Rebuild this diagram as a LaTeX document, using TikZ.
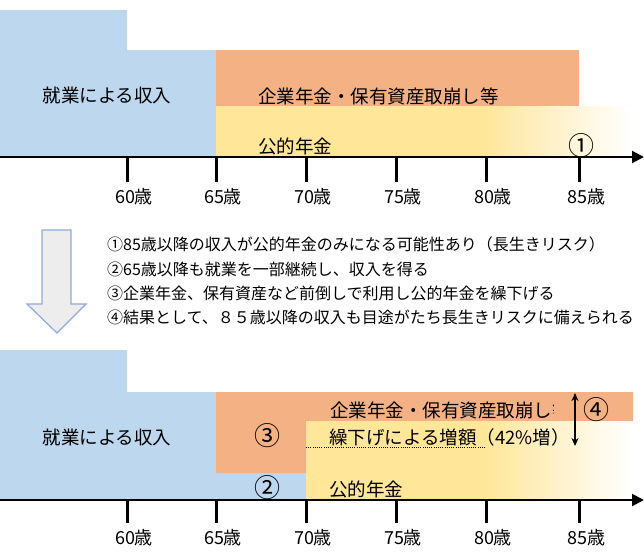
\documentclass[tikz,border=0pt]{standalone}
\usepackage{fontspec}
\setmainfont{Noto Sans CJK JP}
\usetikzlibrary{arrows.meta}
\definecolor{cblue}{HTML}{BDD7EE}
\definecolor{corange}{HTML}{F4B183}
\definecolor{cyellow}{HTML}{FFE699}
\definecolor{carrowfill}{HTML}{EDEDED}
\definecolor{carrowline}{HTML}{8FAADC}
\begin{document}
\begin{tikzpicture}[x=1pt,y=-1pt,
  lbl/.style={font=\fontsize{18.5}{20}\selectfont, inner sep=0pt},
  lblw/.style={lbl, anchor=west},
  circ/.style={font=\fontsize{26}{28}\selectfont, inner sep=0pt},
  agel/.style={font=\fontsize{18}{20}\selectfont, inner sep=0pt},
  note/.style={font=\fontsize{16}{18}\selectfont, inner sep=0pt, anchor=west},
  axisline/.style={line width=2pt, -{Triangle[length=12pt,width=12pt]}},
  tickline/.style={line width=3pt},
  bigarrow/.style={fill=carrowfill, draw=carrowline, line width=1.2pt, line join=miter},
  dblarrow/.style={line width=1.5pt, {Stealth[length=8pt,width=7pt]}-{Stealth[length=8pt,width=7pt]}},
  dotline/.style={line width=1pt, dash pattern=on 1pt off 1.2pt},
]
\useasboundingbox (0,0) rectangle (644,555);

% ---------------- top chart ----------------
\fill[cblue] (0,10) -- (127,10) -- (127,50) -- (216,50) -- (216,157) -- (0,157) -- cycle;
\fill[corange] (216,50) rectangle (579,106);
\fill[cyellow] (216,106) rectangle (482,157);
\shade[left color=cyellow, right color=white] (482,106) rectangle (632,157);

\node[lbl] (work1) at (107,95) {就業による収入};
\node[lblw] (corp1) at (258,96) {企業年金・保有資産取崩し等};
\node[lblw] (pub1) at (258,146) {公的年金};
\node[circ] (c1top) at (581,146) {①};

\coordinate (ax0) at (0,157);
\coordinate (ax1) at (644,157);
\draw[axisline] (ax0) -- (ax1);
\foreach \x/\a in {127/60,216/65,306/70,396/75,486/80,579/85}{
  \coordinate (tt\a) at (\x,157);
  \coordinate (tb\a) at (\x,182);
  \draw[tickline] (tt\a) -- (tb\a);
  \node[agel] (la\a) at (\x+7,197) {\a 歳};
}

% ---------------- arrow and notes ----------------
\draw[bigarrow] (42,230) -- (71,230) -- (71,304) -- (86,304) -- (57,333) -- (27,304) -- (42,304) -- cycle;
\node[note] (n1) at (107,244) {①85歳以降の収入が公的年金のみになる可能性あり（長生きリスク）};
\node[note] (n2) at (107,269) {②65歳以降も就業を一部継続し、収入を得る};
\node[note] (n3) at (107,293) {③企業年金、保有資産など前倒しで利用し公的年金を繰下げる};
\node[note] (n4) at (107,317) {④結果として、８５歳以降の収入も目途がたち長生きリスクに備えられる};

% ---------------- bottom chart ----------------
\fill[cblue] (0,350) -- (127,350) -- (127,392) -- (306,392) -- (306,500) -- (0,500) -- cycle;
\fill[corange] (216,392) -- (633,392) -- (633,421) -- (306,421) -- (306,473) -- (216,473) -- cycle;
\fill[cyellow] (306,421) rectangle (485,500);
\shade[left color=cyellow, right color=white] (485,421) rectangle (632,500);

\coordinate (dl0) at (306,447);
\coordinate (dl1) at (486,447);
\draw[dotline] (dl0) -- (dl1);

\node[lbl] (work2) at (107,437) {就業による収入};
\begin{scope}
  \clip (306,392) rectangle (553,421);
  \node[lblw] (corp2) at (330,410) {企業年金・保有資産取崩し等};
\end{scope}
\node[lblw] (defer) at (329,437) {繰下げによる増額（42\%増）};
\node[lblw] (pub2) at (329,489) {公的年金};
\node[circ] (c3) at (267,436) {③};
\node[circ] (c2) at (267,488) {②};
\node[circ] (c4) at (596,410) {④};

\coordinate (da0) at (575,393);
\coordinate (da1) at (575,446);
\draw[dblarrow] (da0) -- (da1);

\coordinate (bx0) at (0,500);
\coordinate (bx1) at (644,500);
\draw[axisline] (bx0) -- (bx1);
\foreach \x/\a in {127/60,216/65,306/70,396/75,486/80,579/85}{
  \coordinate (bt\a) at (\x,500);
  \coordinate (bb\a) at (\x,523);
  \draw[tickline] (bt\a) -- (bb\a);
  \node[agel] (lb\a) at (\x+7,538) {\a 歳};
}
\end{tikzpicture}
\end{document}
